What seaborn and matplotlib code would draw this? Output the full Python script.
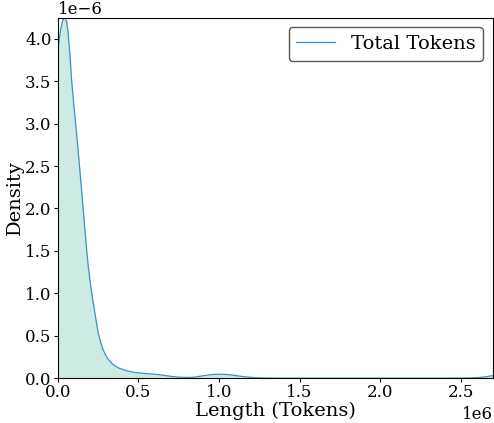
import matplotlib
matplotlib.use("Agg")
import matplotlib.pyplot as plt
import seaborn as sns
import pandas as pd
from matplotlib.lines import Line2D

plt.rcParams['font.family'] = ['DejaVu Serif']

# Density curve (x in tokens, y in density)
length_tokens = [0.0, 0.01e6, 0.02e6, 0.03e6, 0.037e6, 0.0435e6, 0.05e6, 0.057e6,
                 0.065e6, 0.075e6, 0.085e6, 0.097e6, 0.110e6, 0.122e6, 0.135e6,
                 0.150e6, 0.165e6, 0.178e6, 0.190e6, 0.204e6, 0.219e6, 0.235e6,
                 0.250e6, 0.265e6, 0.280e6, 0.295e6, 0.312e6, 0.334e6, 0.355e6,
                 0.380e6, 0.416e6, 0.450e6, 0.478e6, 0.540e6, 0.600e6, 0.652e6,
                 0.700e6, 0.750e6, 0.800e6, 0.850e6, 0.900e6, 0.950e6, 1.000e6,
                 1.050e6, 1.100e6, 1.150e6, 1.210e6, 1.280e6, 1.350e6, 1.500e6,
                 2.000e6, 2.400e6, 2.500e6, 2.550e6, 2.600e6, 2.650e6, 2.700e6]
density = [3.855e-6, 4.01e-6, 4.13e-6, 4.21e-6, 4.24e-6, 4.247e-6, 4.23e-6, 4.18e-6,
           4.05e-6, 3.82e-6, 3.53e-6, 3.27e-6, 3.01e-6, 2.77e-6, 2.49e-6,
           2.16e-6, 1.82e-6, 1.53e-6, 1.30e-6, 1.09e-6, 0.90e-6, 0.71e-6,
           0.54e-6, 0.43e-6, 0.34e-6, 0.28e-6, 0.225e-6, 0.176e-6, 0.145e-6,
           0.118e-6, 0.094e-6, 0.078e-6, 0.067e-6, 0.055e-6, 0.046e-6, 0.035e-6,
           0.022e-6, 0.012e-6, 0.008e-6, 0.012e-6, 0.028e-6, 0.042e-6, 0.047e-6,
           0.043e-6, 0.032e-6, 0.018e-6, 0.008e-6, 0.002e-6, 0.0, 0.0,
           0.0, 0.0, 0.001e-6, 0.002e-6, 0.006e-6, 0.015e-6, 0.03e-6]
series_label = "Total Tokens"
x_label = "Length (Tokens)"
y_label = "Density"

df = pd.DataFrame({"length": length_tokens, "density": density})

line_color = "#3a92c4"
fill_color = "#cdeae3"

fig = plt.figure(figsize=(4.94, 4.23), dpi=100)
ax = fig.add_axes([0.117, 0.106, 0.881, 0.852])

ax.fill_between(df["length"], df["density"], 0, color=fill_color, linewidth=0)
sns.lineplot(data=df, x="length", y="density", ax=ax, color=line_color,
             linewidth=0.9, sort=False)

ax.set_xlim(0, 2.7e6)
ax.set_ylim(0, max(density))
ax.set_xlabel(x_label, fontsize=14, labelpad=0)
ax.set_ylabel(y_label, fontsize=14, labelpad=1)
ax.tick_params(labelsize=12, pad=1.5, length=3)
ax.xaxis.get_offset_text().set_fontsize(12)
ax.yaxis.get_offset_text().set_fontsize(12)

handle = Line2D([0], [0], color=line_color, linewidth=0.9)
ax.legend([handle], [series_label], loc="upper right", fontsize=14,
          fancybox=True, framealpha=1.0, edgecolor="#555555")

fig.savefig("out.png", dpi=100)
